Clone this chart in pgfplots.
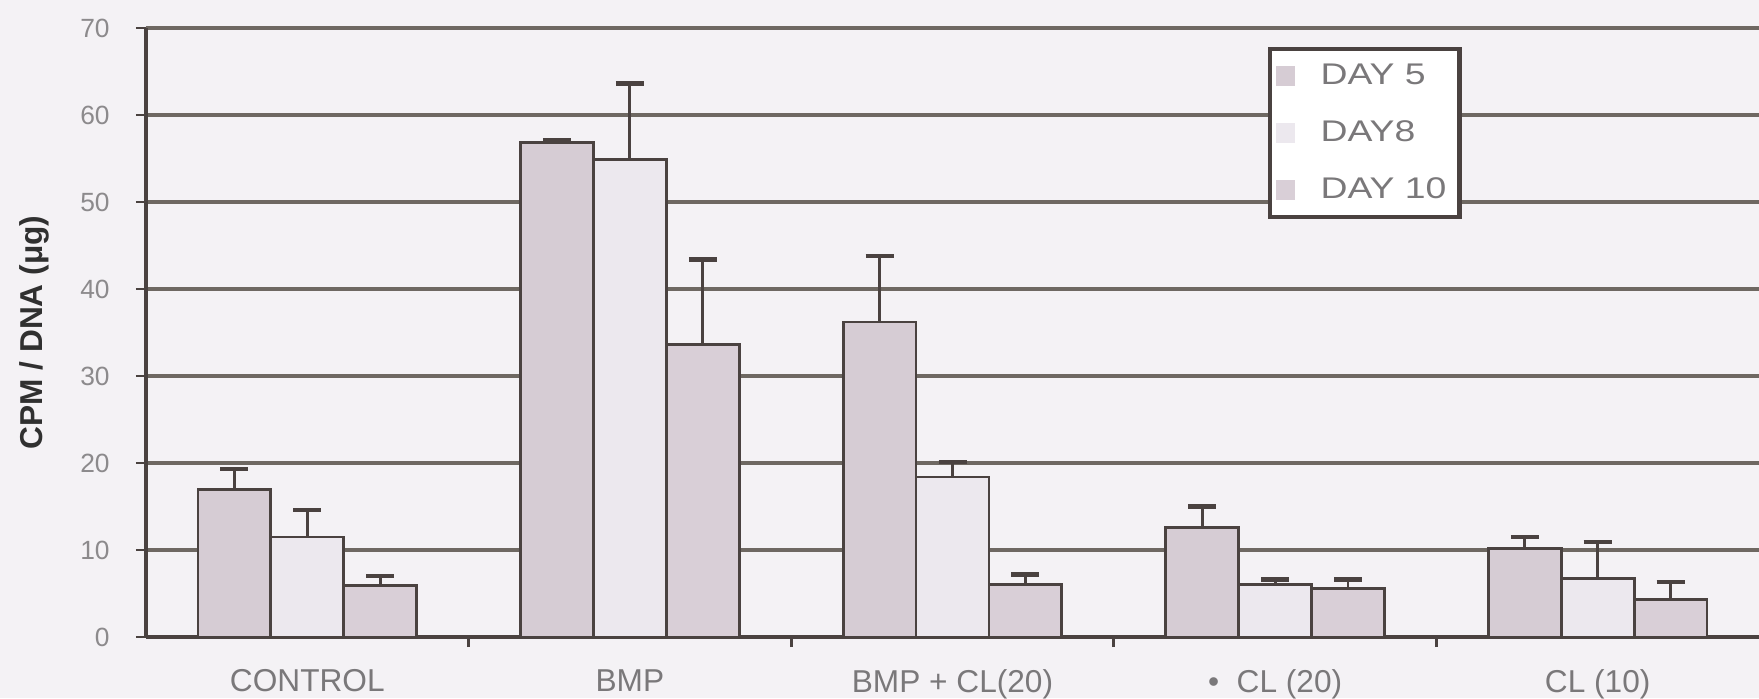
\documentclass[border=0pt]{standalone}
\usepackage{pgfplots}
\pgfplotsset{compat=1.18}
\usepackage{fontspec}
\setmainfont{Liberation Sans}
\newfontfamily\legfont[FakeStretch=1.25]{Liberation Sans}
\definecolor{bg}{HTML}{F4F2F5}
\definecolor{gridc}{HTML}{6E6862}
\definecolor{barline}{HTML}{4A4240}
\definecolor{dfive}{HTML}{D6CCD4}
\definecolor{deight}{HTML}{ECE8EE}
\definecolor{dten}{HTML}{D9CFD7}
\definecolor{tickc}{HTML}{8C8A8C}
\definecolor{labc}{HTML}{7A787A}
\definecolor{ylabc}{HTML}{303030}
\pgfplotsset{
  sqlegend/.style={legend image code/.code={\path[##1,draw=none] (0mm,-1mm) rectangle (1.9mm,1mm); \path (3.6mm,0mm);}},
  myerr/.style={error bars/.cd, y dir=plus, y explicit,
     error bar style={barline, line width=0.8pt},
     error mark options={rotate=90, mark size=1.4mm, line width=1.3pt, barline}},
}
\begin{document}
\begin{tikzpicture}
\fill[bg] (-14.6mm,-6.1mm) rectangle (161.3mm,63.7mm);
\path[use as bounding box] (-14.6mm,-6.1mm) rectangle (161.3mm,63.7mm);
\begin{axis}[
  at={(0,0)}, anchor=south west,
  scale only axis, width=161.3mm, height=60.9mm,
  xmin=-0.5, xmax=4.5, ymin=0, ymax=70,
  axis x line=bottom, axis y line=left,
  axis line style={-, barline, line width=1.4pt},
  ytick={0,10,...,70},
  ymajorgrids, major grid style={gridc, line width=1.3pt},
  tick style={barline, line width=0.8pt},
  major tick length=1mm, tick align=outside,
  xtick={0.5,1.5,2.5,3.5}, xticklabels={},
  extra x ticks={0,1,2,3,4},
  extra x tick labels={CONTROL,BMP,BMP + CL(20),{\textbullet\ \ CL (20)},CL (10)},
  extra x tick style={major tick length=0pt},
  x tick label style={font=\fontsize{9}{10}\selectfont, text=labc, yshift=-2.0mm},
  y tick label style={font=\fontsize{7.5}{8}\selectfont, text=tickc, xshift=-1.4mm},
  /pgf/number format/assume math mode=true,
  ylabel={CPM / DNA (μg)},
  every axis y label/.style={at={(axis description cs:-0.0694,0.5)}, rotate=90, anchor=center,
     font=\bfseries\fontsize{9}{10}\selectfont, text=ylabc},
  legend style={at={(rel axis cs:0.6956,0.969)}, anchor=north west, draw=barline,
     line width=1.2pt, fill=white, font=\legfont\fontsize{8.5}{9}\selectfont, text=labc,
     inner xsep=0.6mm, inner ysep=0.7mm, row sep=1.7mm,
     nodes={text height=2.1mm, text depth=0.5mm}},
  legend cell align=left,
]
\addplot[ybar, bar width=0.226, bar shift=0, fill=dfive, draw=barline, line width=0.8pt, sqlegend, myerr]
  coordinates {(-0.226,17.0) +- (0,2.3) (0.774,56.8) +- (0,0.3) (1.774,36.2) +- (0,7.6) (2.774,12.6) +- (0,2.4) (3.774,10.2) +- (0,1.3)};
\addlegendentry{DAY 5}
\addplot[ybar, bar width=0.226, bar shift=0, fill=deight, draw=barline, line width=0.8pt, sqlegend, myerr]
  coordinates {(0,11.5) +- (0,3.1) (1,54.9) +- (0,8.7) (2,18.4) +- (0,1.7) (3,6.0) +- (0,0.6) (4,6.7) +- (0,4.2)};
\addlegendentry{DAY8}
\addplot[ybar, bar width=0.226, bar shift=0, fill=dten, draw=barline, line width=0.8pt, sqlegend, myerr]
  coordinates {(0.226,5.9) +- (0,1.1) (1.226,33.6) +- (0,9.8) (2.226,6.0) +- (0,1.2) (3.226,5.6) +- (0,1.0) (4.226,4.3) +- (0,2.0)};
\addlegendentry{DAY 10}
\end{axis}
\end{tikzpicture}
\end{document}
